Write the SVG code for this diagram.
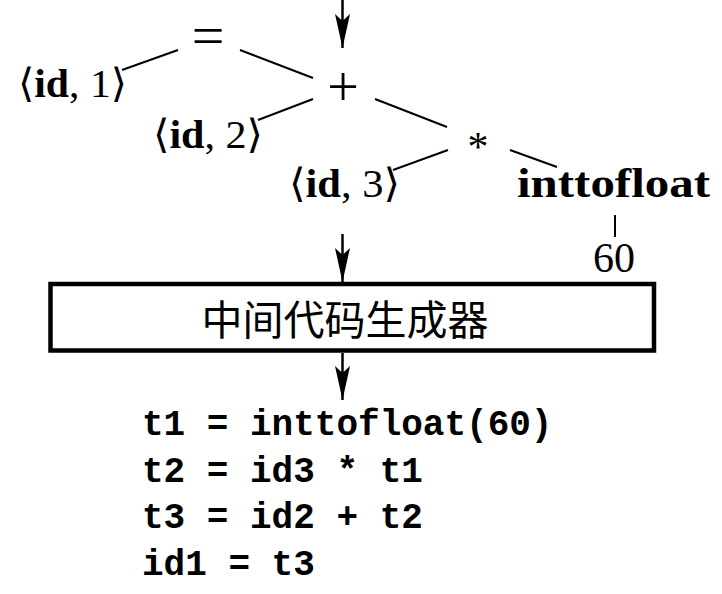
<svg xmlns="http://www.w3.org/2000/svg" width="722" height="594" viewBox="0 0 722 594">
<style>
.tr{font-family:"Liberation Serif","DejaVu Serif",serif;fill:#000}
.b{font-weight:bold}
.br{font-family:"DejaVu Serif",serif;font-size:40px}
.edge{stroke:#000;stroke-width:2;fill:none}
.arr{stroke:#000;stroke-width:2.5;fill:none}
.code{font-family:"Liberation Mono","DejaVu Sans Mono",monospace;font-weight:bold;font-size:36px;fill:#000}
.cjk{font-family:"Noto Sans CJK SC","Noto Sans",sans-serif;font-size:41px;fill:#000}
</style>
<defs>
<marker id="ah" viewBox="0 -8 34 16" refX="34" refY="0" markerWidth="34" markerHeight="16" markerUnits="userSpaceOnUse" orient="auto">
<path d="M0,-7.5 L7,0 L0,7.5 L34,0 Z" fill="#000"/>
</marker>
</defs>
<rect width="722" height="594" fill="#fff"/>
<g id="connectors">
<line class="arr" x1="342.5" y1="0" x2="342.5" y2="48" marker-end="url(#ah)"/>
<line class="arr" x1="342.5" y1="234" x2="342.5" y2="282" marker-end="url(#ah)"/>
<line class="arr" x1="342.5" y1="353" x2="342.5" y2="400" marker-end="url(#ah)"/>
<line class="edge" x1="178" y1="50" x2="122" y2="70"/>
<line class="edge" x1="240" y1="50" x2="313" y2="78"/>
<line class="edge" x1="313" y1="99" x2="258" y2="120"/>
<line class="edge" x1="375" y1="99" x2="447" y2="127"/>
<line class="edge" x1="448" y1="150" x2="393" y2="170"/>
<line class="edge" x1="510" y1="150" x2="557" y2="167"/>
<line class="edge" x1="615" y1="215" x2="615" y2="237" stroke-width="1.5"/>
</g>
<g id="n-assign"><text class="tr" x="208" y="55" font-size="58" text-anchor="middle">=</text></g>
<g id="n-id1"><text class="tr" x="18" y="97" font-size="40" textLength="109" lengthAdjust="spacingAndGlyphs"><tspan class="br">⟨</tspan><tspan class="b">id</tspan>, 1<tspan class="br">⟩</tspan></text></g>
<g id="n-plus"><text class="tr" x="343" y="106" font-size="56" text-anchor="middle">+</text></g>
<g id="n-id2"><text class="tr" x="153" y="148" font-size="40" textLength="110" lengthAdjust="spacingAndGlyphs"><tspan class="br">⟨</tspan><tspan class="b">id</tspan>, 2<tspan class="br">⟩</tspan></text></g>
<g id="n-mul"><text class="tr" x="478" y="161" font-size="42" text-anchor="middle">*</text></g>
<g id="n-id3"><text class="tr" x="289" y="197" font-size="40" textLength="111" lengthAdjust="spacingAndGlyphs"><tspan class="br">⟨</tspan><tspan class="b">id</tspan>, 3<tspan class="br">⟩</tspan></text></g>
<g id="n-inttofloat"><text class="tr b" x="517" y="197" font-size="42" textLength="193" lengthAdjust="spacingAndGlyphs">inttofloat</text></g>
<g id="n-60"><text class="tr" x="593" y="272" font-size="42" textLength="42" lengthAdjust="spacingAndGlyphs">60</text></g>
<g id="n-gen">
<rect x="50.5" y="284" width="603.5" height="66.5" fill="none" stroke="#000" stroke-width="4.5"/>
<text class="cjk" x="345" y="335" text-anchor="middle">中间代码生成器</text>
</g>
<g id="n-code">
<text class="code" x="142" y="435">t1 = inttofloat(60)</text>
<text class="code" x="142" y="482">t2 = id3 * t1</text>
<text class="code" x="142" y="528">t3 = id2 + t2</text>
<text class="code" x="142" y="575">id1 = t3</text>
</g>
</svg>
